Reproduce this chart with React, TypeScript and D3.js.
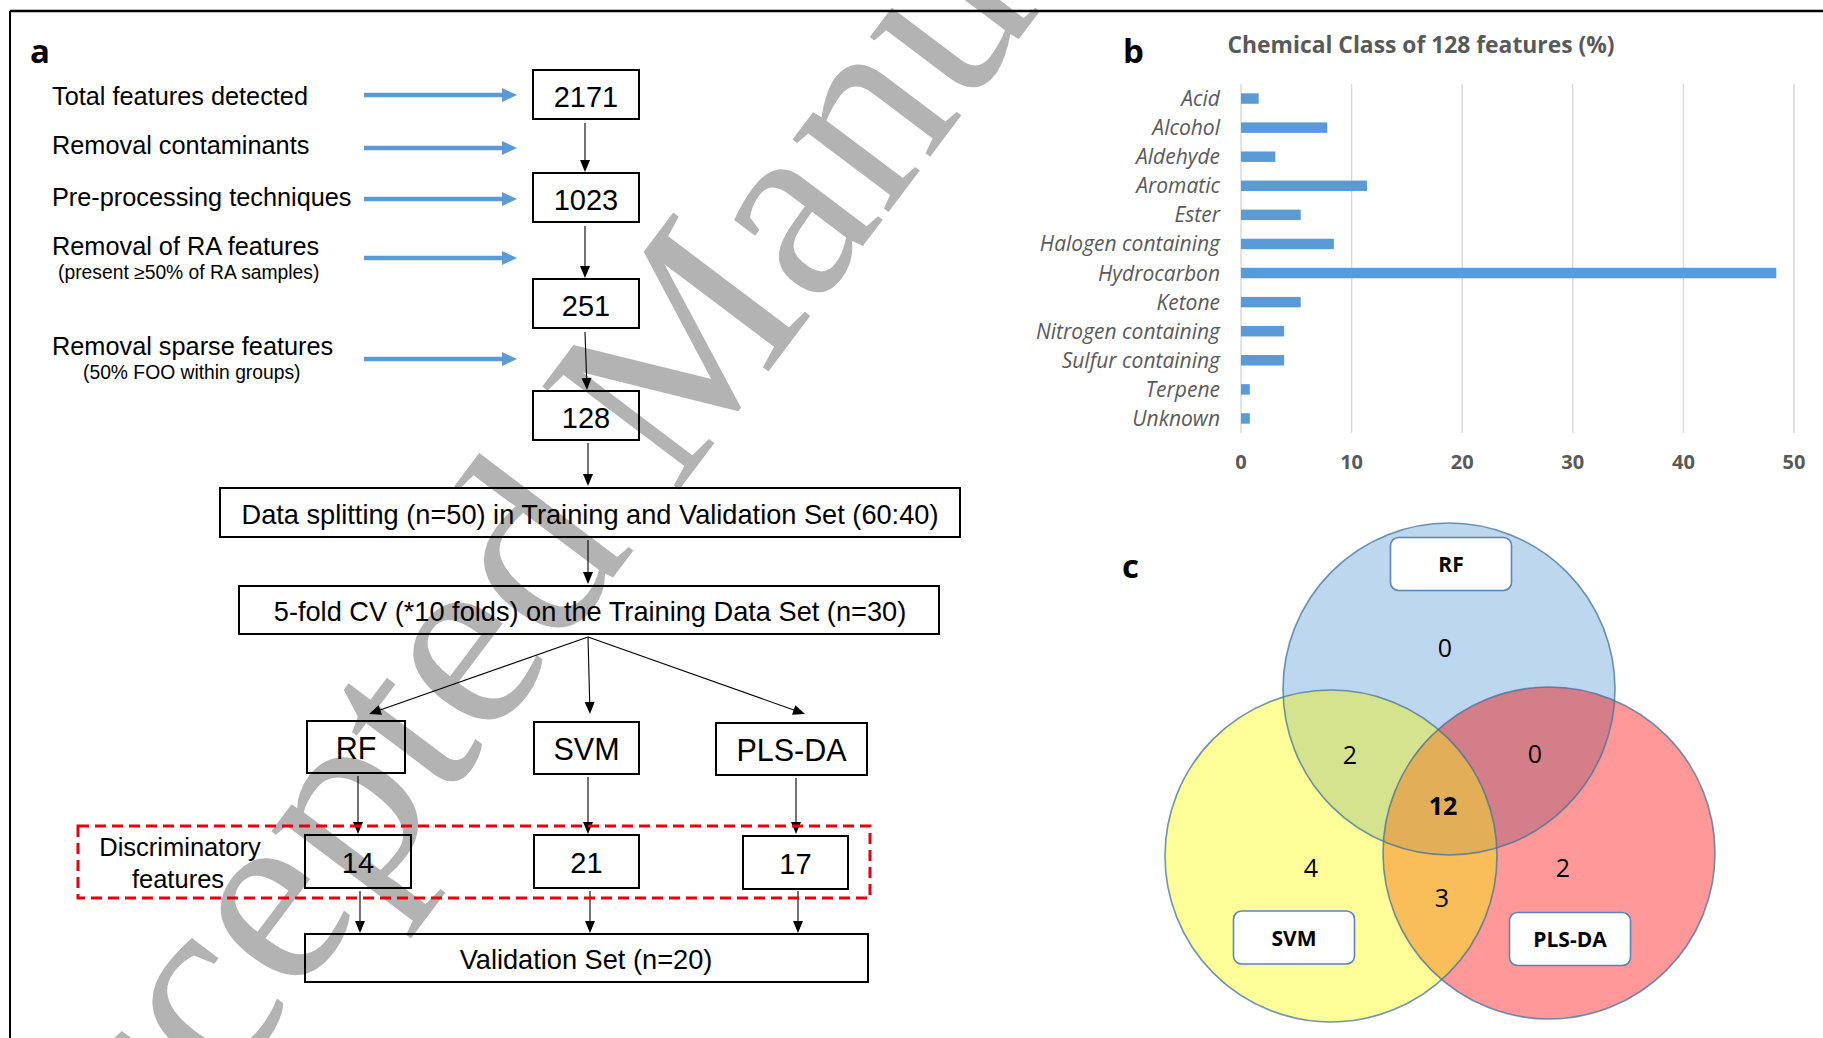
import React from "react";
import * as d3 from "d3";

const W = 1823;
const H = 1038;

// ---- Panel a: feature selection pipeline ----
const pipelineSteps = [
  "Total features detected",
  "Removal contaminants",
  "Pre-processing techniques",
  "Removal of RA features",
  "Removal sparse features",
];
const pipelineNotes = ["", "", "", "(present \u226550% of RA samples)", "(50% FOO within groups)"];
const featureCounts = [2171, 1023, 251, 128];
const splitLabel = "Data splitting (n=50) in Training and Validation Set (60:40)";
const cvLabel = "5-fold CV (*10 folds) on the Training Data Set (n=30)";
const models = ["RF", "SVM", "PLS-DA"];
const discriminatoryCounts = [14, 21, 17];
const discriminatoryLabel = ["Discriminatory", "features"];
const validationLabel = "Validation Set (n=20)";

// ---- Panel b: chemical classes ----
const chemTitle = "Chemical Class of 128 features (%)";
const chemClasses = [
  "Acid",
  "Alcohol",
  "Aldehyde",
  "Aromatic",
  "Ester",
  "Halogen containing",
  "Hydrocarbon",
  "Ketone",
  "Nitrogen containing",
  "Sulfur containing",
  "Terpene",
  "Unknown",
];
const chemPercent = [1.6, 7.8, 3.1, 11.4, 5.4, 8.4, 48.4, 5.4, 3.9, 3.9, 0.8, 0.8];
const chemTicks = [0, 10, 20, 30, 40, 50];

// ---- Panel c: overlap of discriminatory features ----
const vennSets = ["RF", "SVM", "PLS-DA"];
const vennRegionKeys = ["RF", "SVM", "PLS-DA", "RF&SVM", "RF&PLS-DA", "SVM&PLS-DA", "RF&SVM&PLS-DA"];
const vennRegionCounts = [0, 4, 2, 2, 0, 3, 12];

const watermark = "Accepted Manuscript";

// ---- layout ----
const SANS = "'Liberation Sans', Arial, sans-serif";
const OPEN = "'Open Sans', 'Noto Sans', sans-serif";
const BLUE = "#5b9bd5";
const GREY_TXT = "#595959";

// pipeline column
const chainCx = 586;
const chainTops = [70, 173, 279, 391];
const chainBoxW = 106;
const chainBoxH = 49;
const stepArrowY = [95, 148, 199, 258, 359];
const stepBaseY = [105, 154, 206, 255, 355];
const noteBaseY = [0, 0, 0, 279, 379];

// model columns
const modelCx = [356, 586.5, 791.5];
const modelW = [98, 105, 151];
const modelTop = 721;
const modelH = 52;
const discCx = [358, 586.5, 795.5];
const discW = [106, 105, 105];
const discTop = 835;
const discH = 53;
const colArrowX = [359, 589, 797];

// watermark placement
const wmX = 40;
const wmY = 1338;
const wmAngle = -53;
const wmSize = 262;

function Arrow({ x1, y1, x2, y2, color = "#000", width = 1.1, headLen = 12, headW = 10 }) {
  const dx = x2 - x1;
  const dy = y2 - y1;
  const len = Math.hypot(dx, dy);
  const ux = dx / len;
  const uy = dy / len;
  const bx = x2 - ux * headLen;
  const by = y2 - uy * headLen;
  const px = -uy * (headW / 2);
  const py = ux * (headW / 2);
  return (
    <g>
      <line x1={x1} y1={y1} x2={bx + ux * 1} y2={by + uy * 1} stroke={color} strokeWidth={width} />
      <polygon points={`${x2},${y2} ${bx + px},${by + py} ${bx - px},${by - py}`} fill={color} />
    </g>
  );
}

function Box({ cx, top, w, h, label, size, dy = 0 }) {
  return (
    <g>
      <rect x={cx - w / 2} y={top} width={w} height={h} fill="none" stroke="#000" strokeWidth={2} />
      <text
        x={cx}
        y={top + h / 2 + size * 0.36 + dy}
        textAnchor="middle"
        fontFamily={SANS}
        fontSize={size}
        fill="#000"
      >
        {label}
      </text>
    </g>
  );
}

function PanelA() {
  const splitBox = { x0: 220, x1: 960, y0: 488, y1: 537 };
  const cvBox = { x0: 239, x1: 939, y0: 586, y1: 634 };
  const valBox = { x0: 305, x1: 868, y0: 934, y1: 982 };
  const fork = { x: 588, y: 637 };
  return (
    <g>
      <text x={30} y={63} fontFamily={OPEN} fontWeight={700} fontSize={33} fill="#000">a</text>
      {pipelineSteps.map((s, i) => (
        <g key={s}>
          <text x={52} y={stepBaseY[i]} fontFamily={SANS} fontSize={25.3} fill="#000">{s}</text>
          {pipelineNotes[i] && (
            <text
              x={i === 3 ? 58 : 83}
              y={noteBaseY[i]}
              fontFamily={SANS}
              fontSize={19.3}
              fill="#000"
            >
              {pipelineNotes[i]}
            </text>
          )}
          <Arrow x1={364} y1={stepArrowY[i]} x2={517} y2={stepArrowY[i]} color={BLUE} width={4.5} headLen={15} headW={14} />
        </g>
      ))}
      {featureCounts.map((n, i) => (
        <Box key={n} cx={chainCx} top={chainTops[i]} w={chainBoxW} h={chainBoxH} label={String(n)} size={29} dy={2} />
      ))}
      {featureCounts.slice(0, -1).map((n, i) => (
        <Arrow key={"c" + n} x1={chainCx - 1} y1={chainTops[i] + chainBoxH + 4} x2={chainCx - 1 + (i === 2 ? 2 : 0)} y2={chainTops[i + 1] - 1} />
      ))}
      <Arrow x1={588} y1={chainTops[3] + chainBoxH + 3} x2={588} y2={splitBox.y0 - 2} />

      <rect x={splitBox.x0} y={splitBox.y0} width={splitBox.x1 - splitBox.x0} height={splitBox.y1 - splitBox.y0} fill="none" stroke="#000" strokeWidth={2} />
      <text x={590} y={524} textAnchor="middle" fontFamily={SANS} fontSize={27.2} fill="#000">{splitLabel}</text>
      <Arrow x1={588} y1={splitBox.y1 + 3} x2={588} y2={cvBox.y0 - 2} />

      <rect x={cvBox.x0} y={cvBox.y0} width={cvBox.x1 - cvBox.x0} height={cvBox.y1 - cvBox.y0} fill="none" stroke="#000" strokeWidth={2} />
      <text x={590} y={621} textAnchor="middle" fontFamily={SANS} fontSize={27.2} fill="#000">{cvLabel}</text>

      {models.map((m, i) => (
        <g key={m}>
          <Arrow x1={fork.x} y1={fork.y} x2={[369, 590, 805][i]} y2={714} />
          <Box cx={modelCx[i]} top={modelTop + i} w={modelW[i]} h={modelH} label={m} size={30.5} dy={1} />
          <Arrow x1={colArrowX[i] - 1} y1={modelTop + i + modelH + 3} x2={colArrowX[i] - 1} y2={discTop - 1} />
          <Box cx={discCx[i]} top={discTop + (i === 2 ? 1 : 0)} w={discW[i]} h={discH} label={String(discriminatoryCounts[i])} size={29} dy={1} />
          <Arrow x1={colArrowX[i] + 1} y1={discTop + discH + 3} x2={colArrowX[i] + 1} y2={valBox.y0 - 1} />
        </g>
      ))}

      <rect x={78} y={826} width={792} height={72} fill="none" stroke="#e3000f" strokeWidth={3} strokeDasharray="11 6" />
      <text x={180} y={856} textAnchor="middle" fontFamily={SANS} fontSize={25.5} fill="#000">{discriminatoryLabel[0]}</text>
      <text x={178} y={888} textAnchor="middle" fontFamily={SANS} fontSize={25.5} fill="#000">{discriminatoryLabel[1]}</text>

      <rect x={valBox.x0} y={valBox.y0} width={valBox.x1 - valBox.x0} height={valBox.y1 - valBox.y0} fill="none" stroke="#000" strokeWidth={2} />
      <text x={586} y={969} textAnchor="middle" fontFamily={SANS} fontSize={27.2} fill="#000">{validationLabel}</text>
    </g>
  );
}

function PanelB() {
  const x = d3.scaleLinear().domain([0, 50]).range([1241, 1794]);
  const y = d3
    .scaleBand<string>()
    .domain(chemClasses)
    .range([84, 433])
    .paddingInner(0.64)
    .paddingOuter(0.32);
  return (
    <g>
      <text x={1123} y={63} fontFamily={OPEN} fontWeight={700} fontSize={33} fill="#000">b</text>
      <text x={1421} y={53} textAnchor="middle" fontFamily={OPEN} fontWeight={700} fontSize={23} fill={GREY_TXT} textLength={387} lengthAdjust="spacingAndGlyphs">
        {chemTitle}
      </text>
      {chemTicks.map((t) => (
        <g key={t}>
          <line x1={x(t)} x2={x(t)} y1={84} y2={433} stroke="#d9d9d9" strokeWidth={1.4} />
          <text x={x(t)} y={469} textAnchor="middle" fontFamily={OPEN} fontWeight={700} fontSize={20} fill={GREY_TXT}>
            {t}
          </text>
        </g>
      ))}
      {chemClasses.map((c, i) => {
        const yy = y(c) as number;
        return (
          <g key={c}>
            <rect x={x(0)} y={yy} width={x(chemPercent[i]) - x(0)} height={y.bandwidth()} fill={BLUE} />
            <text
              x={1220}
              y={yy + y.bandwidth() / 2 + 7.5}
              textAnchor="end"
              fontFamily={OPEN}
              fontStyle="italic"
              fontSize={21}
              fill={GREY_TXT}
            >
              {c}
            </text>
          </g>
        );
      })}
    </g>
  );
}

function PanelC() {
  const r = 166;
  const circles = {
    RF: { cx: 1449, cy: 689 },
    SVM: { cx: 1331, cy: 856 },
    "PLS-DA": { cx: 1549, cy: 853 },
  };
  const setColor = { RF: "#bdd7ee", SVM: "#ffff99", "PLS-DA": "#ff9999" };
  const pairColor = { "RF&SVM": "#d5e38e", "RF&PLS-DA": "#d47e8a", "SVM&PLS-DA": "#f9be5a" };
  const tripleColor = "#e2ae57";
  const labelBox = {
    RF: { cx: 1451, cy: 564 },
    SVM: { cx: 1294, cy: 937.5 },
    "PLS-DA": { cx: 1570, cy: 939 },
  };
  const regionPos = {
    RF: [1445, 648],
    SVM: [1311, 868],
    "PLS-DA": [1563, 868],
    "RF&SVM": [1350, 755],
    "RF&PLS-DA": [1535, 754],
    "SVM&PLS-DA": [1442, 898],
    "RF&SVM&PLS-DA": [1443, 806],
  };
  const [A, B, C] = vennSets;
  return (
    <g>
      <text x={1122} y={578} fontFamily={OPEN} fontWeight={700} fontSize={33} fill="#000">c</text>
      <defs>
        {vennSets.map((s, i) => (
          <clipPath id={"venn-clip-" + i} key={s}>
            <circle cx={circles[s].cx} cy={circles[s].cy} r={r} />
          </clipPath>
        ))}
      </defs>
      {vennSets.map((s) => (
        <circle key={s} cx={circles[s].cx} cy={circles[s].cy} r={r} fill={setColor[s]} />
      ))}
      <circle cx={circles[B].cx} cy={circles[B].cy} r={r} fill={pairColor["RF&SVM"]} clipPath="url(#venn-clip-0)" />
      <circle cx={circles[C].cx} cy={circles[C].cy} r={r} fill={pairColor["RF&PLS-DA"]} clipPath="url(#venn-clip-0)" />
      <circle cx={circles[C].cx} cy={circles[C].cy} r={r} fill={pairColor["SVM&PLS-DA"]} clipPath="url(#venn-clip-1)" />
      <g clipPath="url(#venn-clip-0)">
        <circle cx={circles[C].cx} cy={circles[C].cy} r={r} fill={tripleColor} clipPath="url(#venn-clip-1)" />
      </g>
      {vennSets.map((s) => (
        <circle key={"o" + s} cx={circles[s].cx} cy={circles[s].cy} r={r} fill="none" stroke="#41719c" strokeOpacity={0.75} strokeWidth={1.6} />
      ))}
      {vennRegionKeys.map((k, i) => (
        <text
          key={k}
          x={regionPos[k][0]}
          y={regionPos[k][1] + 9}
          textAnchor="middle"
          fontFamily={OPEN}
          fontWeight={k === "RF&SVM&PLS-DA" ? 700 : 400}
          fontSize={25}
          fill="#000"
        >
          {vennRegionCounts[i]}
        </text>
      ))}
      {vennSets.map((s) => (
        <g key={"l" + s}>
          <rect x={labelBox[s].cx - 60.5} y={labelBox[s].cy - 26.5} width={121} height={53} rx={8} fill="#fff" stroke="#5b85b8" strokeWidth={1.6} />
          <text x={labelBox[s].cx} y={labelBox[s].cy + 8} textAnchor="middle" fontFamily={OPEN} fontWeight={700} fontSize={21} fill="#000">
            {s}
          </text>
        </g>
      ))}
    </g>
  );
}

export default function App() {
  return (
    <svg
      width={W}
      height={H}
      viewBox={`0 0 ${W} ${H}`}
      style={{ position: "absolute", left: 0, top: 0, display: "block", background: "#fff" }}
    >
      <rect x={0} y={0} width={W} height={H} fill="#fff" />
      <text
        x={wmX}
        y={wmY}
        transform={`rotate(${wmAngle} ${wmX} ${wmY})`}
        fontFamily="'Liberation Serif', 'Times New Roman', serif"
        fontSize={wmSize}
        fill="#b3b3b3"
      >
        {watermark}
      </text>
      <line x1={10} y1={11} x2={W} y2={11} stroke="#000" strokeWidth={2.6} />
      <line x1={10} y1={11} x2={10} y2={H} stroke="#000" strokeWidth={2} />
      <PanelA />
      <PanelB />
      <PanelC />
    </svg>
  );
}
